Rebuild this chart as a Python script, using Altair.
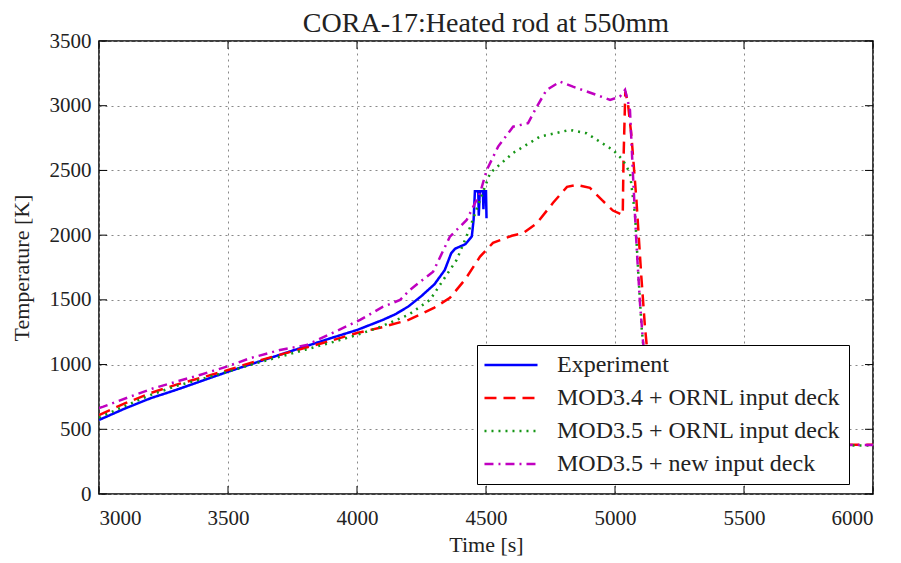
import altair as alt
import pandas as pd

series_names = ["Experiment", "MOD3.4 + ORNL input deck",
                "MOD3.5 + ORNL input deck", "MOD3.5 + new input deck"]
series_colors = ["#0000ff", "#ff0000", "#169616", "#c000c0"]
series_dashes = [[1, 0], [12, 7], [2, 5], [9, 5, 2, 5]]

exp_t = [3000, 3100, 3200, 3300, 3400, 3500, 3600, 3700, 3800, 3900, 4000, 4100,
         4150, 4200, 4250, 4300, 4340, 4365, 4380, 4420, 4445, 4452, 4457, 4470,
         4472, 4476, 4488, 4490, 4493, 4500, 4502]
exp_T = [572, 660, 740, 805, 875, 945, 1010, 1075, 1140, 1205, 1267, 1345,
         1390, 1450, 1530, 1620, 1730, 1860, 1895, 1930, 1990, 2120, 2340, 2340,
         2150, 2340, 2340, 2200, 2340, 2340, 2130]

m34_t = [3000, 3100, 3200, 3300, 3400, 3500, 3600, 3700, 3800, 3900, 4000, 4100,
         4200, 4300, 4360, 4420, 4477, 4527, 4600, 4643, 4697, 4760, 4814, 4852,
         4903, 4950, 4992, 5030, 5033, 5040, 5050, 5064, 5083, 5102, 5116, 5140,
         5160, 6000]
m34_T = [610, 700, 780, 845, 900, 958, 1020, 1075, 1130, 1185, 1244, 1290,
         1345, 1440, 1515, 1660, 1834, 1940, 1995, 2015, 2092, 2250, 2373, 2388,
         2365, 2270, 2190, 2156, 2580, 3110, 3020, 2761, 2272, 1680, 1293, 800,
         380, 380]

m35_t = [3000, 3100, 3200, 3300, 3400, 3500, 3600, 3700, 3800, 3900, 4000, 4089,
         4200, 4283, 4386, 4430, 4477, 4516, 4605, 4709, 4825, 4890, 4992, 5031,
         5058, 5078, 5091, 5103, 5130, 5160, 6000]
m35_T = [590, 680, 765, 835, 890, 945, 1005, 1060, 1115, 1170, 1229, 1290,
         1385, 1500, 1808, 2017, 2272, 2480, 2635, 2761, 2813, 2787, 2658, 2580,
         2480, 2150, 1680, 1290, 700, 375, 375]

new_t = [3000, 3017, 3120, 3211, 3391, 3495, 3585, 3702, 3805, 3915, 4012, 4101,
         4167, 4205, 4295, 4360, 4425, 4477, 4503, 4547, 4605, 4663, 4697, 4735,
         4787, 4837, 4929, 4981, 5019, 5039, 5058, 5070, 5083, 5096, 5108, 5135,
         5160, 6000]
new_T = [665, 675, 752, 817, 920, 984, 1049, 1113, 1151, 1254, 1345, 1447,
         1499, 1577, 1718, 1988, 2117, 2326, 2504, 2684, 2838, 2865, 2993, 3122,
         3186, 3147, 3083, 3045, 3070, 3122, 2967, 2452, 1940, 1500, 1190, 700,
         378, 378]

x_ticks = [3000, 3500, 4000, 4500, 5000, 5500, 6000]
y_ticks = [0, 500, 1000, 1500, 2000, 2500, 3000, 3500]

rows = []
for name, ts, Ts in zip(series_names, [exp_t, m34_t, m35_t, new_t],
                        [exp_T, m34_T, m35_T, new_T]):
    for i, (a, b) in enumerate(zip(ts, Ts)):
        rows.append({"series": name, "t": a, "T": b, "i": i})
df = pd.DataFrame(rows)

W, H = 774, 453
FONT = "Liberation Serif"
TXT = "#222222"

x_enc = alt.X("t:Q", scale=alt.Scale(domain=[3000, 6000], nice=False, zero=False),
              axis=alt.Axis(values=x_ticks, title="Time [s]", format="d",
                            ticks=False, labelPadding=13, titlePadding=6,
                            domain=False, grid=True))
y_enc = alt.Y("T:Q", scale=alt.Scale(domain=[0, 3500], nice=False),
              axis=alt.Axis(values=y_ticks, title="Temperature [K]", format="d",
                            ticks=False, labelPadding=8, titlePadding=16,
                            domain=False, grid=True))

leg = alt.Legend(title=None, orient="none", legendX=378, legendY=304)

lines = alt.Chart(df).mark_line(strokeWidth=2.5, clip=True).encode(
    x=x_enc,
    y=y_enc,
    color=alt.Color("series:N", sort=series_names,
                    scale=alt.Scale(domain=series_names, range=series_colors),
                    legend=leg),
    strokeDash=alt.StrokeDash("series:N", sort=series_names,
                              scale=alt.Scale(domain=series_names, range=series_dashes),
                              legend=leg),
    order="i:Q",
)

xt = pd.DataFrame({"t": x_ticks})
yt = pd.DataFrame({"T": y_ticks})
tick_bottom = alt.Chart(xt).mark_rule(color="black", strokeWidth=1).encode(
    x=x_enc, y=alt.value(H), y2=alt.value(H - 8))
tick_top = alt.Chart(xt).mark_rule(color="black", strokeWidth=1).encode(
    x=x_enc, y=alt.value(0), y2=alt.value(8))
tick_left = alt.Chart(yt).mark_rule(color="black", strokeWidth=1).encode(
    y=y_enc, x=alt.value(0), x2=alt.value(8))
tick_right = alt.Chart(yt).mark_rule(color="black", strokeWidth=1).encode(
    y=y_enc, x=alt.value(W), x2=alt.value(W - 8))

chart = alt.layer(lines, tick_bottom, tick_top, tick_left, tick_right).properties(
    width=W, height=H,
    title=alt.TitleParams("CORA-17:Heated rod at 550mm", dy=11),
    autosize=alt.AutoSizeParams(type="none"),
    padding={"left": 91, "top": 33, "right": 20, "bottom": 66},
).configure_view(
    stroke="black", strokeWidth=1.5
).configure_axis(
    labelFont=FONT, labelFontSize=21, labelColor=TXT,
    titleFont=FONT, titleFontSize=22, titleColor=TXT, titleFontWeight="normal",
    gridColor="#888888", gridDash=[2, 4], gridWidth=1, gridOpacity=1,
).configure_title(
    font=FONT, fontSize=28, fontWeight="normal", color=TXT, offset=3, anchor="middle",
).configure_legend(
    symbolType="M-2.5,0H2.5", symbolSize=450, symbolStrokeWidth=2.5,
    symbolOffset=14,
    labelFont=FONT, labelFontSize=24, labelColor=TXT, labelOffset=34,
    labelLimit=500,
    padding=8, rowPadding=9, strokeColor="black", fillColor="white",
    cornerRadius=0,
)

chart.save("out.html", embed_options={"renderer": "svg", "actions": False})
